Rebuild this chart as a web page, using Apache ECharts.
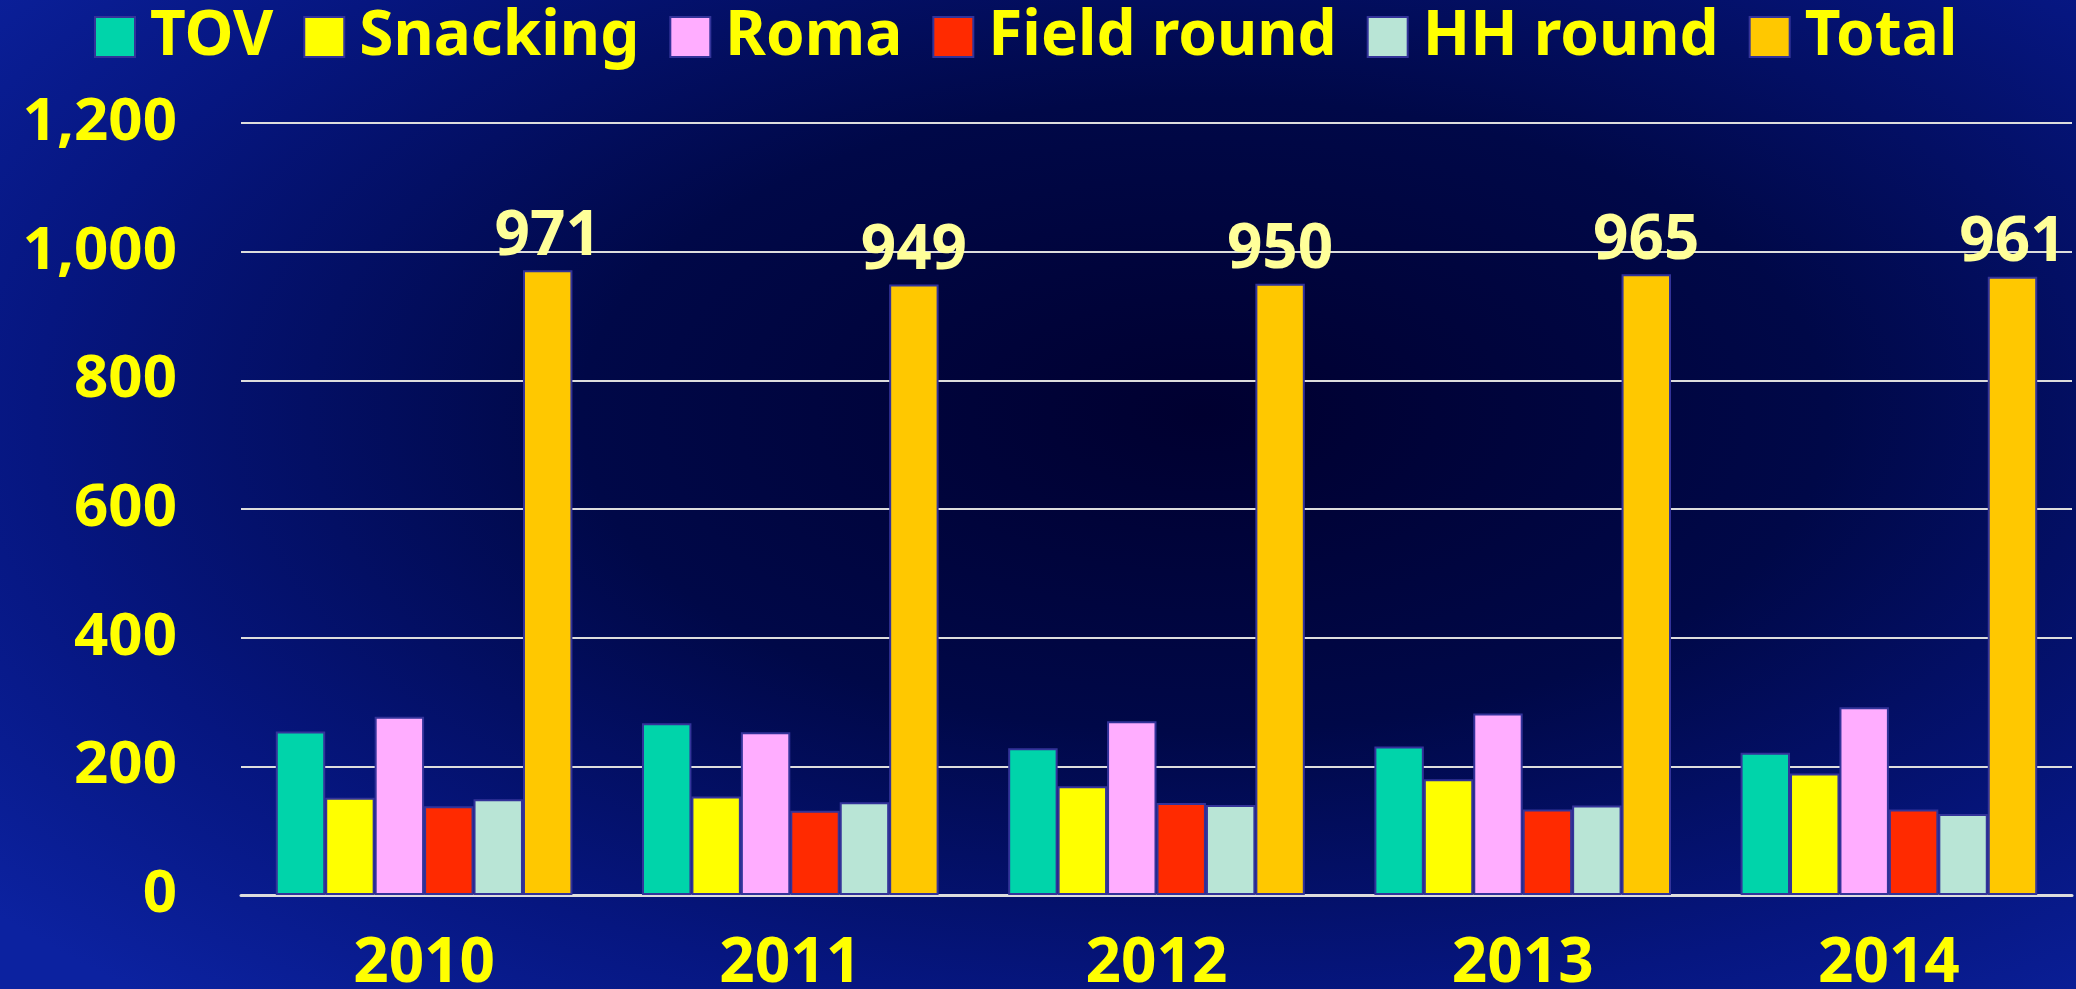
<!DOCTYPE html>
<html>
<head>
<meta charset="utf-8">
<script src="https://cdn.jsdelivr.net/npm/echarts@6/dist/echarts.min.js"></script>
<style>
html,body{margin:0;padding:0;width:2076px;height:989px;overflow:hidden;}
body{background: radial-gradient(ellipse 75% 80% at 58% 42%, #000030 0%, #000848 40%, #061680 75%, #0c22a0 100%);}
#chart{width:2076px;height:989px;}
</style>
</head>
<body>
<div id="chart"></div>
<script>
const years = ['2010','2011','2012','2013','2014'];
const tov = [254, 267, 228, 231, 221];
const snacking = [151, 153, 169, 180, 189];
const roma = [277, 253, 270, 282, 292];
const fieldRound = [138, 131, 143, 133, 133];
const hhRound = [149, 144, 140, 139, 126];
const total = [971, 949, 950, 965, 961];
const seriesNames = ['TOV','Snacking','Roma','Field round','HH round','Total'];
const seriesColors = ['#00D4AA','#FFFF00','#FFADFF','#FF2A00','#B9E5D6','#FFC800'];
const yTicks = [0, 200, 400, 600, 800, 1000, 1200];

const FONT = '"Noto Sans", "DejaVu Sans", sans-serif';
const dataArrays = [tov, snacking, roma, fieldRound, hhRound, total];

const series = dataArrays.map((arr, i) => ({
  name: seriesNames[i],
  type: 'bar',
  data: arr,
  barGap: '0%',
  barCategoryGap: '19%',
  itemStyle: { color: seriesColors[i], borderColor: '#333399', borderWidth: 2 },
  label: i === 5 ? {
    show: true, position: 'top', distance: 2,
    color: '#FFFF99', fontFamily: FONT, fontWeight: 'bold', fontSize: 62
  } : { show: false }
}));

const chart = echarts.init(document.getElementById('chart'), null, { renderer: 'canvas' });
chart.setOption({
  backgroundColor: 'transparent',
  animation: false,
  legend: {
    top: 1, left: 89,
    itemWidth: 40, itemHeight: 40, itemGap: 30,
    icon: 'rect',
    textStyle: { color: '#FFFF00', fontFamily: FONT, fontWeight: 'bold', fontSize: 62, padding: [0,0,0,10] },
    data: seriesNames,
    itemStyle: { borderColor: '#333399', borderWidth: 2 }
  },
  grid: { left: 241, right: 4, top: 123, bottom: 94, containLabel: false, outerBoundsMode: 'none' },
  xAxis: {
    type: 'category', data: years,
    axisLine: { show: true, lineStyle: { color: '#DDDDDD', width: 3 } },
    axisTick: { show: false },
    axisLabel: { color: '#FFFF00', fontFamily: FONT, fontWeight: 'bold', fontSize: 62, margin: 38 }
  },
  yAxis: {
    type: 'value', min: 0, max: 1200, interval: 200,
    axisLine: { show: false }, axisTick: { show: false },
    splitLine: { lineStyle: { color: '#DDDDDD', width: 2 } },
    axisLabel: {
      color: '#FFFF00', fontFamily: FONT, fontWeight: 'bold', fontSize: 60, margin: 64,
      formatter: v => yTicks.includes(v) ? v.toLocaleString('en-US') : ''
    }
  },
  series: series
});
</script>
</body>
</html>
